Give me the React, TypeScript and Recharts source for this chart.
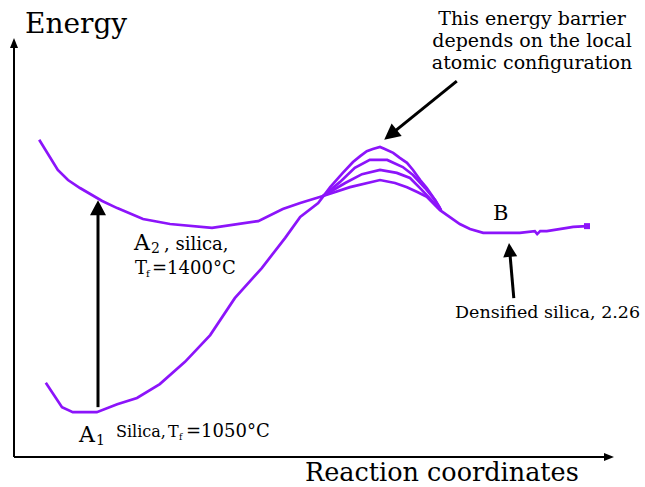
import { ComposedChart, Line, XAxis, YAxis, ReferenceLine } from "recharts";

// energy landscape, x = reaction coordinate (0-100), y = energy (0-100)
const curveA2 = [
  { x: 4.2, y: 75.7 }, { x: 7.3, y: 68.5 }, { x: 9.0, y: 66.1 }, { x: 11.0, y: 64.2 },
  { x: 14.7, y: 61.1 }, { x: 17.2, y: 59.4 }, { x: 21.5, y: 56.8 }, { x: 26.0, y: 55.6 },
  { x: 33.0, y: 54.7 }, { x: 40.7, y: 56.3 }, { x: 44.8, y: 59.2 }, { x: 47.7, y: 60.6 },
  { x: 51.5, y: 62.3 }, { x: 56.0, y: 64.4 }, { x: 61.0, y: 66.1 }, { x: 63.5, y: 65.4 },
  { x: 65.5, y: 64.4 }, { x: 67.3, y: 63.2 }, { x: 68.8, y: 62.1 }, { x: 71.0, y: 58.9 },
  { x: 74.3, y: 55.6 }, { x: 76.0, y: 54.4 }, { x: 78.2, y: 53.5 }, { x: 84.3, y: 53.5 },
  { x: 86.8, y: 53.9 }, { x: 87.2, y: 53.2 }, { x: 87.7, y: 53.9 }, { x: 88.8, y: 53.9 },
  { x: 92.2, y: 54.7 }, { x: 93.2, y: 54.9 }, { x: 95.5, y: 55.1 }
];

const curveA1 = [
  { x: 5.3, y: 17.7 }, { x: 8.0, y: 11.9 }, { x: 9.8, y: 10.7 }, { x: 13.8, y: 10.7 },
  { x: 17.2, y: 12.6 }, { x: 20.5, y: 14.1 }, { x: 24.3, y: 17.4 }, { x: 28.5, y: 22.7 },
  { x: 32.7, y: 29.1 }, { x: 36.8, y: 37.9 }, { x: 41.3, y: 45.1 }, { x: 45.2, y: 52.3 },
  { x: 47.7, y: 57.3 }, { x: 50.7, y: 60.6 }, { x: 52.7, y: 64.4 }, { x: 54.8, y: 67.8 },
  { x: 56.5, y: 70.4 }, { x: 57.7, y: 71.8 }, { x: 58.8, y: 73.0 }, { x: 59.8, y: 73.5 },
  { x: 61.0, y: 74.0 }, { x: 61.8, y: 73.5 }, { x: 63.2, y: 72.6 }, { x: 64.3, y: 71.4 },
  { x: 65.5, y: 70.2 }, { x: 66.5, y: 68.5 }, { x: 67.7, y: 66.1 }, { x: 68.8, y: 64.2 },
  { x: 69.8, y: 62.1 }, { x: 71.0, y: 59.4 }
];

const barrierMid = [
  { x: 51.5, y: 62.3 }, { x: 54.3, y: 65.6 }, { x: 56.8, y: 69.0 }, { x: 59.3, y: 70.9 },
  { x: 62.2, y: 70.9 }, { x: 64.8, y: 69.2 }, { x: 66.5, y: 67.3 }, { x: 68.5, y: 64.2 },
  { x: 70.2, y: 61.3 }, { x: 71.2, y: 58.9 }
];

const barrierLow = [
  { x: 51.5, y: 62.3 }, { x: 55.2, y: 65.4 }, { x: 58.0, y: 67.5 }, { x: 61.0, y: 68.5 },
  { x: 63.8, y: 67.8 }, { x: 66.0, y: 66.6 }, { x: 68.0, y: 63.7 }, { x: 69.7, y: 61.1 },
  { x: 71.2, y: 58.9 }
];

const endMark = [{ x: 95.5, y: 55.1 }];

// arrows: [from, to]
const arrows = [
  { id: "yaxis", from: { x: 0, y: 0 }, to: { x: 0, y: 100 }, w: 2, head: 10, half: 4 },
  { id: "xaxis", from: { x: 0, y: 0 }, to: { x: 100, y: 0 }, w: 2, head: 10, half: 4 },
  { id: "a1a2", from: { x: 14.0, y: 11.9 }, to: { x: 14.0, y: 61.3 }, w: 3, head: 15, half: 8 },
  { id: "barrier", from: { x: 73.8, y: 89.7 }, to: { x: 61.7, y: 75.7 }, w: 3, head: 16, half: 8 },
  { id: "dens", from: { x: 83.3, y: 37.9 }, to: { x: 82.5, y: 51.1 }, w: 3, head: 14, half: 7 }
];

const purple = "#8c14fa";
const serif = "'DejaVu Serif', serif";

function ArrowShape(props: any) {
  const { x1, y1, x2, y2, w, head, half } = props;
  const dx = x2 - x1;
  const dy = y2 - y1;
  const len = Math.sqrt(dx * dx + dy * dy) || 1;
  const ux = dx / len;
  const uy = dy / len;
  const bx = x2 - ux * head;
  const by = y2 - uy * head;
  const pts = `${x2},${y2} ${bx - uy * half},${by + ux * half} ${bx + uy * half},${by - ux * half}`;
  return (
    <g>
      <line x1={x1} y1={y1} x2={bx + ux * 1} y2={by + uy * 1} stroke="#000" strokeWidth={w} />
      <polygon points={pts} fill="#000" />
    </g>
  );
}

export default function App() {
  return (
    <div style={{ position: "absolute", left: 0, top: 0, width: 645, height: 487, background: "#fff" }}>
      <ComposedChart width={645} height={487} margin={{ top: 38, right: 31, bottom: 30, left: 14 }}>
        <XAxis dataKey="x" type="number" domain={[0, 100]} allowDataOverflow hide />
        <YAxis type="number" domain={[0, 100]} allowDataOverflow hide />
        <Line data={curveA2} dataKey="y" type="linear" stroke={purple} strokeWidth={2.7} dot={false} isAnimationActive={false} />
        <Line data={curveA1} dataKey="y" type="linear" stroke={purple} strokeWidth={2.7} dot={false} isAnimationActive={false} />
        <Line data={barrierMid} dataKey="y" type="linear" stroke={purple} strokeWidth={2.7} dot={false} isAnimationActive={false} />
        <Line data={barrierLow} dataKey="y" type="linear" stroke={purple} strokeWidth={2.7} dot={false} isAnimationActive={false} />
        <Line
          data={endMark}
          dataKey="y"
          stroke="none"
          isAnimationActive={false}
          dot={(p: any) => <rect key="end" x={p.cx - 3} y={p.cy - 3} width={6} height={6} fill={purple} />}
        />
        {arrows.map((a) => (
          <ReferenceLine
            key={a.id}
            segment={[a.from, a.to]}
            ifOverflow="visible"
            shape={(p: any) => <ArrowShape {...p} w={a.w} head={a.head} half={a.half} />}
          />
        ))}
      </ComposedChart>
      <svg width={645} height={487} style={{ position: "absolute", left: 0, top: 0, pointerEvents: "none" }} fontFamily={serif} fill="#000">
        <text x={25} y={33} fontSize={28}>Energy</text>
        <text x={532} y={25} fontSize={19} textAnchor="middle">This energy barrier</text>
        <text x={532} y={47} fontSize={19} textAnchor="middle">depends on the local</text>
        <text x={532} y={69} fontSize={19} textAnchor="middle">atomic configuration</text>
        <text x={493} y={220} fontSize={21}>B</text>
        <text x={134} y={250} fontSize={22}>A</text>
        <text x={151} y={253} fontSize={14}>2</text>
        <text x={164} y={250} fontSize={18}>, silica,</text>
        <text x={135} y={274} fontSize={18}>T</text>
        <text x={146} y={277} fontSize={10}>f</text>
        <text x={152} y={274} fontSize={18}>=1400°C</text>
        <text x={79} y={442} fontSize={22}>A</text>
        <text x={96} y={445} fontSize={14}>1</text>
        <text x={116} y={437} fontSize={16}>Silica,</text>
        <text x={168} y={437} fontSize={16}>T</text>
        <text x={179} y={440} fontSize={9}>f</text>
        <text x={186} y={437} fontSize={18}>=1050°C</text>
        <text x={455} y={318} fontSize={17.5}>Densified silica, 2.26</text>
        <text x={305} y={481} fontSize={25.5}>Reaction coordinates</text>
      </svg>
    </div>
  );
}
